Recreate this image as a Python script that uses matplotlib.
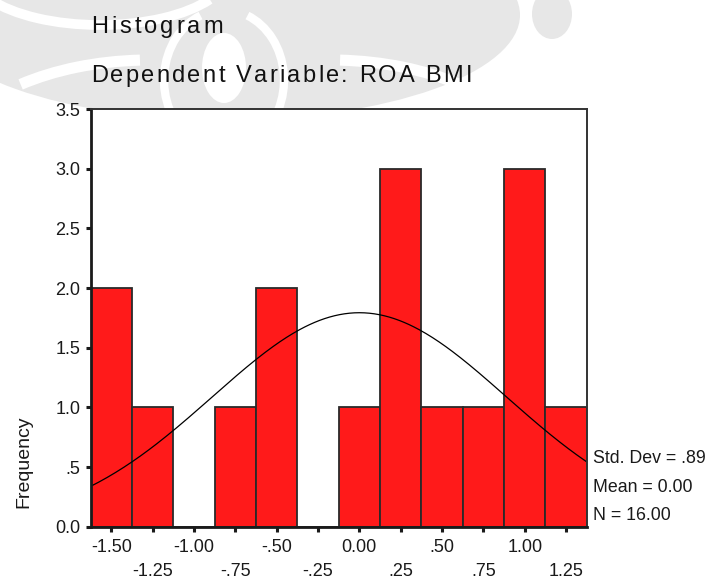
import numpy as np
import matplotlib
matplotlib.use("Agg")
import matplotlib.pyplot as plt
from matplotlib.patches import Ellipse, Arc

# ---- data ----
bin_centers = [-1.50, -1.25, -1.00, -0.75, -0.50, -0.25, 0.00, 0.25, 0.50, 0.75, 1.00, 1.25]
frequencies = [2, 1, 0, 1, 2, 0, 1, 3, 1, 1, 3, 1]
bin_width = 0.25
std_dev = 0.89
mean_val = 0.00
n_obs = 16
major_ticks = [-1.50, -1.00, -0.50, 0.00, 0.50, 1.00]
major_labels = ["-1.50", "-1.00", "-.50", "0.00", ".50", "1.00"]
minor_ticks = [-1.25, -0.75, -0.25, 0.25, 0.75, 1.25]
minor_labels = ["-1.25", "-.75", "-.25", ".25", ".75", "1.25"]
y_ticks = [0.0, 0.5, 1.0, 1.5, 2.0, 2.5, 3.0, 3.5]
y_labels = ["0.0", ".5", "1.0", "1.5", "2.0", "2.5", "3.0", "3.5"]
title1 = "Histogram"
title2 = "Dependent Variable: ROA BMI"
stats_lines = ["Std. Dev = .89", "Mean = 0.00", "N = 16.00"]

W, H = 712, 581
plt.rcParams['font.family'] = ['Liberation Sans', 'DejaVu Sans']
fig = plt.figure(figsize=(W / 100, H / 100), dpi=100)
fig.patch.set_facecolor('white')

# ---- faint watermark (background) ----
bg = fig.add_axes([0, 0, 1, 1], zorder=-5)
bg.set_xlim(0, W)
bg.set_ylim(H, 0)
bg.axis('off')
gray = '#e7e7e7'
bg.add_patch(Ellipse((225, 15), 590, 210, color=gray, lw=0))
bg.add_patch(Ellipse((552, 14), 40, 50, color=gray, lw=0))
# white swirl bands / ring
bg.add_patch(Arc((150, 175), 420, 230, theta1=215, theta2=265, color='white', lw=8))
bg.add_patch(Arc((330, 175), 420, 230, theta1=275, theta2=325, color='white', lw=8))
bg.add_patch(Arc((224, 80), 120, 140, theta1=120, theta2=250, color='white', lw=6))
bg.add_patch(Arc((224, 80), 120, 140, theta1=290, theta2=60, color='white', lw=6))
bg.add_patch(Ellipse((224, 68), 44, 70, color='white', lw=0))
bg.add_patch(Arc((100, -30), 260, 110, theta1=15, theta2=165, color='white', lw=7))

# ---- main axes ----
left, right, top, bottom = 90.7, 586.7, 109.0, 526.7
ax = fig.add_axes([left / W, 1 - bottom / H, (right - left) / W, (bottom - top) / H])
ax.set_facecolor('white')

ax.bar(bin_centers, frequencies, width=bin_width, color='#ff1a1a',
       edgecolor='#2a2a2a', linewidth=1.3, zorder=2)

xs = np.linspace(bin_centers[0] - bin_width / 2, bin_centers[-1] + bin_width / 2, 300)
curve = n_obs * bin_width / (std_dev * np.sqrt(2 * np.pi)) * np.exp(-0.5 * ((xs - mean_val) / std_dev) ** 2)
ax.plot(xs, curve, color='black', lw=0.9, zorder=3)

ax.set_xlim(bin_centers[0] - bin_width / 2, bin_centers[-1] + bin_width / 2)
ax.set_ylim(0, 3.5)

for s in ['left', 'bottom']:
    ax.spines[s].set_linewidth(2.0)
    ax.spines[s].set_color('#1a1a1a')
for s in ['top', 'right']:
    ax.spines[s].set_linewidth(1.4)
    ax.spines[s].set_color('#333333')
for sp in ax.spines.values():
    sp.set_zorder(4)

ax.set_yticks(y_ticks)
ax.set_yticklabels(y_labels)
ax.set_xticks(major_ticks)
ax.set_xticklabels(major_labels)
ax.set_xticks(minor_ticks, minor=True)
ax.set_xticklabels(minor_labels, minor=True)

fs_tick = 13
ax.tick_params(axis='y', direction='out', length=3.4, width=2.2, color='#1a1a1a',
               pad=4.2, labelsize=fs_tick, labelcolor='#1a1a1a')
ax.tick_params(axis='x', which='major', direction='out', length=3.6, width=2.2, color='#1a1a1a',
               pad=5.5, labelsize=fs_tick, labelcolor='#1a1a1a')
ax.tick_params(axis='x', which='minor', direction='out', length=3.6, width=2.2, color='#1a1a1a',
               pad=22.5, labelsize=fs_tick, labelcolor='#1a1a1a')

# y label
fig.text(24 / W, 1 - 462 / H, "Frequency", rotation=90, ha='center', va='center',
         fontsize=14, color='#1a1a1a')

# stats
for line, yb in zip(stats_lines, [463, 492, 520]):
    fig.text(593 / W, 1 - yb / H, line, ha='left', va='baseline', fontsize=12.8, color='#1a1a1a')

# spaced titles
fig.canvas.draw()
renderer = fig.canvas.get_renderer()


def text_width(s, fs):
    t = fig.text(0, 0, s, fontsize=fs)
    w = t.get_window_extent(renderer).width
    t.remove()
    return w


def spaced_text(s, x0, x1, ybase, fs):
    bar_w = text_width("||", fs)
    advs = [text_width("|" + c + "|", fs) - bar_w for c in s]
    gap = ((x1 - x0) - sum(advs)) / (len(s) - 1)
    x = x0
    for c, a in zip(s, advs):
        if c != ' ':
            fig.text(x / W, 1 - ybase / H, c, fontsize=fs, ha='left', va='baseline', color='#111111')
        x += a + gap


spaced_text(title1, 91, 223, 33, 17)
spaced_text(title2, 91, 472, 82, 17)

fig.savefig("out.png", dpi=100)
